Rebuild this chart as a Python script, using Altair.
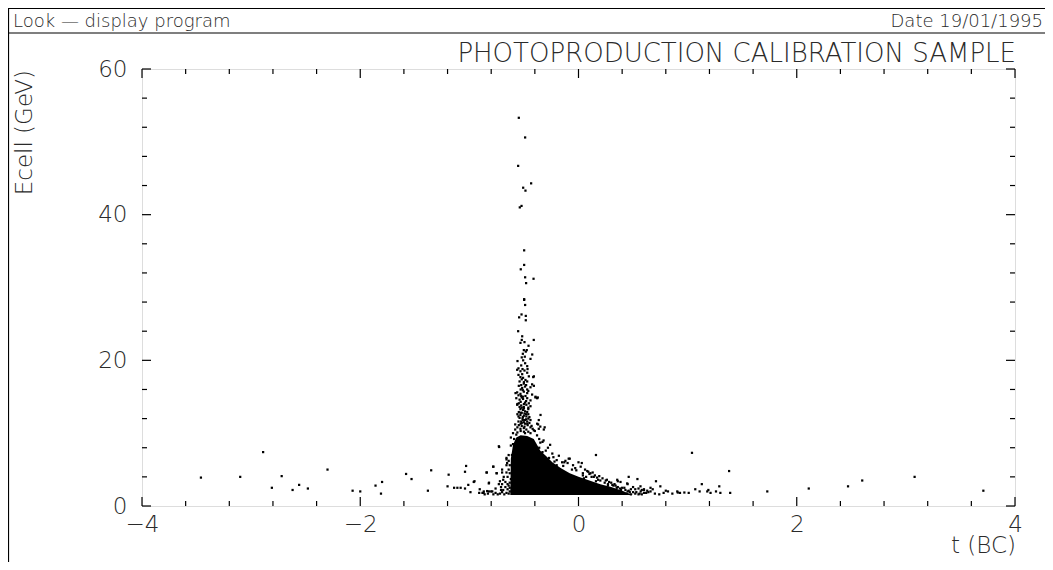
import altair as alt
import pandas as pd

# ---------------- data ----------------
# individual hits (t in bunch crossings, Ecell in GeV)
hit_t = [
    # far left outliers
    -3.46, -3.10, -2.89, -2.81, -2.72, -2.62, -2.56, -2.48, -2.30, -2.07, -2.00, -1.86, -1.80, -1.81,
    -1.58, -1.53, -1.38, -1.35, -1.19, -1.20, -1.14, -1.11, -1.08, -1.04, -1.03, -1.04, -1.01, -0.99,
    -0.96, -0.91, -0.88, -0.87, -0.84, -0.82, -0.82, -0.80, -0.79, -0.78, -0.75, -0.73, -0.72, -0.71,
    -0.70, -0.69, -0.70, -0.66, -0.66, -0.64, -0.63, -0.62, -0.63,
    -0.953, -0.905, -0.868, -0.837, -0.822, -0.843, -0.782, -0.727, -0.75, -0.70, -0.70, -0.685, -0.66, -0.654,
    -0.86, -0.83, -0.78, -0.76, -0.74, -0.72, -0.68, -0.66, -0.65, -0.67, -0.64, -0.71, -0.76, -0.69,
    -0.73, -0.67, -0.65, -0.64,
    -0.63, -0.63, -0.64, -0.62, -0.61, -0.65, -0.66, -0.64, -0.63, -0.62,
    # right side
    1.04, 1.38, 1.73, 2.11, 2.47, 2.60, 3.08, 3.71,
    0.46, 0.54, 0.71, 0.36, 0.75, 0.80, 0.82, 0.91, 0.93, 0.97, 1.01, 1.07, 1.13, 1.11, 1.18, 1.21,
    1.26, 1.29, 1.30, 1.39, 1.19,
    0.57, 0.60, 0.63, 0.66, 0.68, 0.39, 0.42, 0.45, 0.48, 0.41, 0.27, 0.30, 0.32,
    0.16, 0.03, -0.08, -0.03, -0.13, -0.12, 0.09, 0.11, 0.13, 0.04, 0.07, 0.17, 0.19,
    0.45, 0.50, 0.52, 0.55, 0.58, 0.60, 0.64, 0.66, 0.50, 0.62,
    0.355, 0.385, 0.446, 0.568, 0.60, 0.905,
    # speckles along the edge of the dense core
    -0.26, -0.23, -0.20, -0.15, -0.10, -0.09, 0.02, 0.06, 0.10, 0.15, 0.22, 0.25, 0.28, 0.33, 0.36,
    0.43, 0.47, 0.52, 0.55, 0.58, 0.70, 0.74, 0.78, 0.86, -0.30, -0.33, -0.28, -0.24, -0.18, -0.05,
    0.00, -0.02, 0.08, 0.14, 0.20, 0.26, 0.31, 0.38, 0.44,
    -0.20, -0.14, -0.06, 0.04, 0.12, 0.18, 0.24, 0.34, 0.40, 0.46, -0.33, -0.36, -0.27, -0.22,
    0.05, 0.16, 0.27, 0.35, 0.40, 0.48, 0.53, 0.56,
    # column above the core
    -0.562, -0.532, -0.495, -0.47, -0.516, -0.455, -0.409, -0.532,
    -0.508, -0.486, -0.54, -0.47, -0.425, -0.501, -0.525,
    -0.547, -0.49, -0.44, -0.516, -0.47, -0.409,
    -0.577, -0.562, -0.532, -0.501, -0.47, -0.425, -0.394, -0.373, -0.525, -0.486,
    -0.57, -0.54, -0.508, -0.47, -0.44, -0.547, -0.49, -0.455,
    -0.562, -0.525, -0.501, -0.478, -0.44, -0.532, -0.508, -0.46,
    -0.547, -0.52, -0.495, -0.47, -0.532, -0.501, -0.478, -0.348,
    -0.54, -0.513, -0.49, -0.46, -0.525, -0.501, -0.47, -0.364, -0.379,
    -0.547, -0.52, -0.495, -0.466, -0.44, -0.532, -0.501, -0.478, -0.318, -0.364,
    -0.415, -0.394, -0.379, -0.37, -0.35, -0.31,
    -0.51, -0.53, -0.50, -0.52, -0.49, -0.51, -0.48, -0.53, -0.51, -0.49, -0.55, -0.46, -0.45, -0.43,
    -0.42, -0.56, -0.58, -0.50, -0.40, -0.57, -0.59, -0.60, -0.38, -0.36, -0.35, -0.32,
    -0.55, -0.52, -0.50, -0.48, -0.53, -0.46, -0.55, -0.51, -0.48, -0.52, -0.56, -0.46, -0.54, -0.50,
    -0.48, -0.53, -0.56, -0.45, -0.52, -0.47, -0.55, -0.44, -0.58, -0.53, -0.46, -0.49, -0.44, -0.56,
    -0.41, -0.60,
    # sparse high-energy tail
    -0.498, -0.489, -0.522, -0.544, -0.483, -0.483, -0.553, -0.516, -0.52, -0.41, -0.495, -0.532,
    -0.458, -0.501, -0.474, -0.483, -0.51, -0.424, -0.492, -0.52, -0.44, -0.559, -0.507, -0.489,
    -0.525, -0.47, -0.55, -0.513, -0.467,
    -0.547, -0.489, -0.553, -0.434, -0.507, -0.486, -0.522, -0.538, -0.498, -0.498, -0.529, -0.489,
    -0.412, -0.48, -0.498,
]
hit_e = [
    3.9, 4.0, 7.4, 2.5, 4.1, 2.2, 2.9, 2.4, 5.0, 2.1, 2.0, 2.8, 3.3, 1.7,
    4.4, 3.7, 2.1, 4.9, 4.3, 2.7, 2.5, 2.5, 2.5, 4.7, 5.5, 2.4, 2.9, 1.9,
    3.3, 1.8, 1.8, 1.8, 4.6, 3.2, 2.0, 2.0, 2.0, 5.4, 4.5, 8.2, 3.4, 2.6,
    1.9, 2.2, 3.0, 6.6, 5.6, 2.8, 4.5, 3.7, 2.0,
    3.4, 2.3, 2.0, 2.05, 3.1, 4.6, 5.4, 8.1, 4.5, 5.0, 4.6, 4.0, 6.4, 5.9,
    1.6, 1.7, 1.6, 1.8, 1.6, 1.7, 1.6, 1.8, 2.3, 2.6, 1.7, 2.2, 2.4, 3.6,
    3.0, 3.3, 4.0, 5.0,
    3.2, 5.6, 6.2, 8.3, 7.0, 3.0, 4.6, 7.0, 2.5, 9.4,
    7.3, 4.8, 2.0, 2.4, 2.7, 3.5, 4.0, 2.1,
    4.0, 3.7, 3.4, 3.4, 2.7, 2.1, 2.0, 1.85, 1.8, 1.85, 1.8, 2.3, 3.0, 2.0, 2.0, 1.8,
    2.0, 2.7, 1.8, 1.8, 2.2,
    2.0, 2.3, 2.1, 2.0, 2.3, 2.2, 2.5, 2.0, 2.3, 1.8, 3.0, 3.2, 2.8,
    7.0, 5.9, 6.5, 5.2, 6.0, 6.2, 4.7, 4.5, 4.6, 4.2, 4.0, 3.9, 4.1,
    3.0, 2.6, 2.3, 2.4, 2.2, 1.8, 1.9, 2.5, 1.9, 1.8,
    3.6, 3.3, 3.1, 2.7, 2.2, 2.0,
    8.4, 6.7, 6.3, 6.0, 5.9, 6.5, 5.4, 5.0, 4.4, 4.2, 3.8, 3.5, 3.3, 3.0, 2.6,
    2.2, 1.9, 1.7, 1.6, 1.6, 1.7, 1.6, 1.8, 1.7, 7.6, 8.8, 8.0, 7.2, 6.9, 5.6,
    6.0, 4.9, 4.8, 4.0, 3.5, 3.6, 2.9, 2.4, 1.7,
    5.6, 5.5, 5.0, 4.5, 4.0, 3.6, 3.2, 2.8, 2.5, 2.1, 7.4, 8.0, 6.6, 6.1,
    3.8, 3.4, 2.8, 2.5, 1.9, 1.6, 1.9, 1.7,
    18.7, 18.5, 18.6, 18.3, 18.1, 17.8, 17.8, 17.7,
    17.6, 17.3, 17.1, 17.1, 16.7, 16.8, 16.6,
    16.5, 16.4, 16.3, 16.2, 16.0, 16.5,
    15.5, 15.6, 15.4, 15.7, 15.5, 15.3, 15.0, 14.9, 15.1, 15.1,
    14.8, 14.6, 14.7, 14.8, 14.5, 14.1, 14.2, 14.1,
    13.9, 13.8, 13.6, 13.9, 13.7, 13.3, 13.2, 13.3,
    12.9, 12.8, 12.7, 12.9, 12.5, 12.4, 12.3, 12.5,
    12.1, 12.0, 11.8, 12.0, 11.6, 11.5, 11.6, 11.8, 11.3,
    11.1, 11.0, 10.9, 11.1, 10.8, 10.6, 10.7, 10.5, 10.5, 10.6,
    17.7, 14.9, 14.8, 11.2, 10.9, 10.8,
    15.9, 14.3, 14.0, 13.5, 13.0, 12.2, 11.9, 11.3, 11.8, 11.3, 12.3, 12.6, 11.4, 11.0,
    10.6, 10.8, 10.5, 10.2, 10.3, 9.8, 9.2, 8.5, 9.7, 9.2, 8.7, 9.0,
    18.0, 17.4, 17.0, 16.6, 16.0, 15.8, 15.2, 15.0, 14.4, 14.9, 14.0, 13.5, 13.6, 13.4,
    12.6, 12.8, 12.6, 12.2, 11.4, 11.3, 11.6, 11.8, 11.2, 10.3, 10.2, 10.0, 10.0, 10.1,
    10.4, 10.0,
    28.3, 27.6, 26.3, 25.9, 26.1, 25.5, 24.0, 23.3, 22.8, 22.8, 22.5, 22.4,
    22.0, 21.4, 21.4, 21.2, 20.9, 20.8, 20.5, 20.4, 20.2, 19.9, 20.0, 19.6,
    19.3, 19.2, 18.9, 18.8, 18.8,
    53.3, 50.6, 46.7, 44.3, 43.7, 43.3, 41.2, 41.0, 35.1, 33.1, 32.5, 31.4,
    31.2, 30.6, 28.4,
]

# outline of the saturated (solid black) core of the distribution
core_t = [-0.625, -0.62, -0.60, -0.57, -0.53, -0.47, -0.41, -0.38, -0.35, -0.30, -0.24, -0.16,
          -0.08, 0.00, 0.10, 0.20, 0.30, 0.38, 0.45, 0.50]
core_top = [1.5, 6.5, 8.4, 9.4, 9.7, 9.6, 9.2, 8.4, 7.6, 6.9, 6.0, 5.2,
            4.5, 4.0, 3.5, 3.0, 2.6, 2.2, 1.8, 1.5]
core_floor = 1.5

x_major = [-4, -2, 0, 2, 4]
x_minor = [-3.6, -3.2, -2.8, -2.4, -1.6, -1.2, -0.8, -0.4, 0.4, 0.8, 1.2, 1.6, 2.4, 2.8, 3.2, 3.6]
y_major = [0, 20, 40, 60]
y_minor = [4, 8, 12, 16, 24, 28, 32, 36, 44, 48, 52, 56]

# ---------------- chart ----------------
W, H = 873, 437
FONT = "DejaVu Sans"
INK = "#2a2a2a"

hits = pd.DataFrame({"t": hit_t, "E": hit_e})
core = pd.DataFrame({"t": core_t, "top": core_top})

xs = alt.Scale(domain=[-4, 4], nice=False, zero=False)
ys = alt.Scale(domain=[0, 60], nice=False, zero=False)
x_axis = alt.Axis(values=x_major, ticks=False, domain=False, grid=False, labelFontSize=23,
                  labelPadding=7, labelFont=FONT, labelColor=INK, labelFontWeight=200,
                  labelFlush=False, labelOverlap=False)
y_axis = alt.Axis(values=y_major, ticks=False, domain=False, grid=False, labelFontSize=23,
                  labelPadding=15, labelFont=FONT, labelColor=INK, labelFontWeight=200,
                  labelOverlap=False)


def X(f):
    return alt.X(f, type="quantitative", scale=xs, axis=x_axis, title=None)


def Y(f):
    return alt.Y(f, type="quantitative", scale=ys, axis=y_axis, title=None)


core_layer = alt.Chart(core).mark_area(color="black", opacity=1, interpolate="linear").encode(
    x=X("t"), y=Y("top"), y2=alt.datum(core_floor)
)
hit_layer = alt.Chart(hits).mark_square(size=5, color="black", opacity=1).encode(x=X("t"), y=Y("E"))


def xticks(vals, length):
    d = pd.DataFrame({"v": vals})
    bottom = alt.Chart(d).mark_rule(color="black", strokeWidth=1.2).encode(
        x=X("v"), y=alt.value(H), y2=alt.value(H - length))
    top = alt.Chart(d).mark_rule(color="black", strokeWidth=1.2).encode(
        x=X("v"), y=alt.value(0), y2=alt.value(length))
    return [bottom, top]


def yticks(vals, length):
    d = pd.DataFrame({"v": vals})
    left = alt.Chart(d).mark_rule(color="black", strokeWidth=1.2).encode(
        y=Y("v"), x=alt.value(0), x2=alt.value(length))
    right = alt.Chart(d).mark_rule(color="black", strokeWidth=1.2).encode(
        y=Y("v"), x=alt.value(W), x2=alt.value(W - length))
    return [left, right]


one = pd.DataFrame({"k": [0]})


def label(text, x, y, size, align="left", baseline="alphabetic", angle=0):
    return alt.Chart(one).mark_text(
        text=text, align=align, baseline=baseline, angle=angle, fontSize=size,
        font=FONT, fontWeight=200, color=INK
    ).encode(x=alt.value(x), y=alt.value(y))


def hline(y, x0, x1, w=1.2):
    return alt.Chart(one).mark_rule(color="black", strokeWidth=w).encode(
        x=alt.value(x0), x2=alt.value(x1), y=alt.value(y))


def vline(x, y0, y1, w=1.2):
    return alt.Chart(one).mark_rule(color="black", strokeWidth=w).encode(
        x=alt.value(x), y=alt.value(y0), y2=alt.value(y1))


layers = [core_layer, hit_layer]
layers += xticks(x_major, 9) + xticks(x_minor, 5)
layers += yticks(y_major, 9) + yticks(y_minor, 5)
layers += [
    hline(-60.5, -134, 903),
    hline(-36, -134, 903),
    vline(-133.5, -61, H + 56),
    label("Look \u2014  display program", -129, -42, 18),
    label("Date 19/01/1995", 901, -42, 18, align="right"),
    label("PHOTOPRODUCTION CALIBRATION SAMPLE", 874, -7, 26, align="right"),
    label("Ecell (GeV)", -117, 1, 23, align="right", baseline="middle", angle=270),
    label("t  (BC)", 874, 484, 23, align="right"),
]

chart = alt.layer(*layers).properties(
    width=W, height=H,
    padding={"left": 134, "top": 61, "right": 30, "bottom": 56},
    autosize=alt.AutoSizeParams(type="none"),
).configure_view(stroke="black", strokeWidth=1.5).configure(background="white")

chart.save("out.html", embed_options={"renderer": "svg", "actions": False})
